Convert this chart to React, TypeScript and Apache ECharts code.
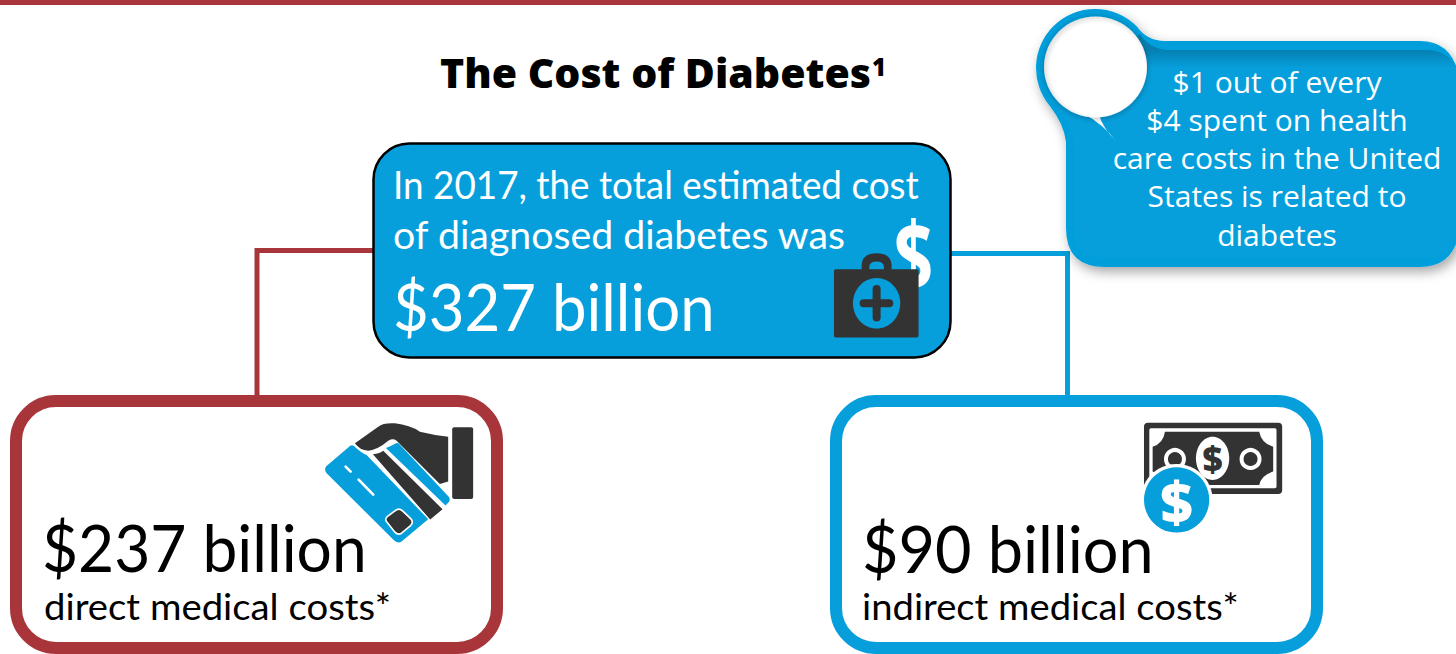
import React, { useEffect, useRef } from "react";
import * as echarts from "echarts";

// Cost figures, in billions of dollars
const totalCost = [327];
const directCost = [237];
const indirectCost = [90];
const calloutLines = ["$1 out of every", "$4 spent on health", "care costs in the United", "States is related to", "diabetes"];
const introLines = ["In 2017, the total estimated cost", "of diagnosed diabetes was"];

const RED = "#A8353A";
const BLUE = "#069FDC";
const DARK = "#333333";
const BODY_FONT = "Lato";

const shapes: Record<string, string> = {
  calloutOuter:
    "M1136.72 26.28 Q1147 41 1165 41 H1420 Q1450 41 1458 72 V238 Q1450 267 1420 267 H1105 Q1066 267 1066 228 V142 Q1064 124 1049.8 105.92 A59 59 0 0 1 1053.28 26.28 A59 59 0 0 1 1136.72 26.28 Z",
  calloutInner:
    "M1140 34 Q1150 50 1170 50 H1425 Q1452 50 1458 74 V236 Q1452 258 1425 258 H1108 Q1074 258 1074 228 V142 Q1070 120 1050 100 Z",
  bubbleTail: "M1083 113 Q1104 125 1115 140 Q1103 128 1099 115 Z",
  hand: "M165 100 L235 50 Q250 38 285 40 Q330 45 360 65 Q400 75 445 80 V215 L420 222 L290 92 Q280 84 265 92 Q235 118 205 122 Q180 122 165 100 Z",
  cardBody:
    "M78 170 L150 108 Q155 103 162 108 Q185 130 200 135 L385 328 L305 395 Q295 402 283 392 L80 190 Q72 180 78 170 Z",
  cardStripe: "M219 133 Q240 130 250 122 L428 298 L391 329 Z",
  cardBand: "M258 114 Q275 108 288 100 Q293 97 298 102 L448 262 Q452 270 447 276 L437 287 Z",
  cardChip:
    "M285 303 Q297 292 308 303 L333 327 Q342 337 332 347 L305 370 Q295 377 285 367 L262 338 Q253 328 262 320 Z",
  billInner:
    "M105 65 H388 Q395 100 430 110 V185 Q395 195 388 225 H105 Q100 195 68 185 V110 Q100 100 105 65 Z",
  caseHandle: "M125 180 V165 Q127 130 170 130 Q213 130 215 165 V180 H192 V170 Q190 155 170 155 Q150 155 148 170 V180 Z",
};
Object.entries(shapes).forEach(([name, d]) => {
  echarts.graphic.registerShape(name, echarts.graphic.extendPath(d, {}));
});

// Text anchored at its left edge; widthScale condenses or stretches the run horizontally.
const label = (text: string, x: number, y: number, fontSize: number, fill: string, widthScale = 1, extra: any = {}) => ({
  type: "text",
  x,
  y,
  scaleX: widthScale,
  silent: true,
  style: { text, fill, fontSize, fontFamily: BODY_FONT, verticalAlign: "middle", align: "left", ...extra },
});

const line = (points: number[][], stroke: string) => ({
  type: "polyline",
  shape: { points },
  style: { stroke, lineWidth: 5, fill: "none" },
});

const costBox = (x: number, stroke: string) => ({
  type: "rect",
  shape: { x, y: 401, width: 481, height: 247, r: 40 },
  style: { fill: "#ffffff", stroke, lineWidth: 12 },
});

const zoomedIcon = (x: number, y: number, children: any[]) => ({
  type: "group",
  x,
  y,
  scaleX: 1 / 3,
  scaleY: 1 / 3,
  children,
});

function buildGraphics() {
  const callout = [
    {
      type: "calloutOuter",
      style: { fill: BLUE, shadowBlur: 12, shadowColor: "rgba(0,0,0,0.35)", shadowOffsetX: 3, shadowOffsetY: 5 },
    },
    {
      type: "calloutInner",
      style: {
        fill: {
          type: "linear",
          x: 0,
          y: 0,
          x2: 0,
          y2: 1,
          colorStops: [
            { offset: 0, color: "#057FB0" },
            { offset: 0.07, color: "#057FB0" },
            { offset: 0.15, color: BLUE },
            { offset: 1, color: BLUE },
          ],
        },
      },
    },
    { type: "bubbleTail", style: { fill: "#ffffff" } },
    {
      type: "ellipse",
      shape: { cx: 1095.5, cy: 67, rx: 51.5, ry: 50.5 },
      style: {
        fill: {
          type: "radial",
          x: 0.52,
          y: 0.52,
          r: 0.52,
          colorStops: [
            { offset: 0, color: "#ffffff" },
            { offset: 0.88, color: "#ffffff" },
            { offset: 1, color: "#e2e2e2" },
          ],
        },
        shadowBlur: 6,
        shadowColor: "rgba(0,0,0,0.3)",
        shadowOffsetY: 1,
      },
    },
    ...calloutLines.map((text, i) =>
      label(text, 1277, 81 + i * 38.3, 30, "#ffffff", 1, { align: "center", fontFamily: "Open Sans", fontWeight: 400 })
    ),
  ];

  const caseIcon = zoomedIcon(820, 210, [
    {
      type: "text",
      x: 280,
      y: 132,
      scaleX: 0.82,
      scaleY: 1.15,
      style: { text: "$", fill: "#ffffff", fontSize: 255, fontFamily: "Open Sans", fontWeight: 700, align: "center", verticalAlign: "middle" },
    },
    { type: "caseHandle", style: { fill: DARK } },
    { type: "rect", shape: { x: 42, y: 178, width: 254, height: 205, r: 5 }, style: { fill: DARK } },
    { type: "ellipse", shape: { cx: 170, cy: 280, rx: 71, ry: 76 }, style: { fill: BLUE } },
    { type: "rect", shape: { x: 119, y: 268, width: 101, height: 24, r: 12 }, style: { fill: DARK } },
    { type: "rect", shape: { x: 158, y: 225, width: 24, height: 110, r: 12 }, style: { fill: DARK } },
  ]);

  const cardIcon = zoomedIcon(300, 410, [
    { type: "hand", style: { fill: DARK } },
    { type: "rect", shape: { x: 457, y: 52, width: 63, height: 215, r: 6 }, style: { fill: DARK } },
    { type: "cardBody", style: { fill: BLUE } },
    { type: "cardStripe", style: { fill: DARK } },
    { type: "cardBand", style: { fill: BLUE } },
    { type: "cardChip", style: { fill: DARK, stroke: "#ffffff", lineWidth: 5 } },
    { type: "line", shape: { x1: 137, y1: 170, x2: 152, y2: 185 }, style: { stroke: "#ffffff", lineWidth: 8, lineCap: "round" } },
    { type: "line", shape: { x1: 176, y1: 209, x2: 220, y2: 254 }, style: { stroke: "#ffffff", lineWidth: 8, lineCap: "round" } },
  ]);

  const moneyIcon = zoomedIcon(1130, 410, [
    { type: "rect", shape: { x: 42, y: 38, width: 415, height: 214, r: 12 }, style: { fill: DARK } },
    { type: "rect", shape: { x: 58, y: 55, width: 382, height: 180, r: 5 }, style: { fill: "#ffffff" } },
    { type: "billInner", style: { fill: DARK } },
    { type: "ellipse", shape: { cx: 248, cy: 145, rx: 50, ry: 65 }, style: { fill: "#ffffff" } },
    {
      type: "text",
      x: 248,
      y: 145,
      style: { text: "$", fill: DARK, fontSize: 105, fontFamily: "Open Sans", fontWeight: 800, align: "center", verticalAlign: "middle" },
    },
    { type: "circle", shape: { cx: 135, cy: 147, r: 27 }, style: { fill: DARK, stroke: "#ffffff", lineWidth: 12 } },
    { type: "circle", shape: { cx: 362, cy: 147, r: 27 }, style: { fill: DARK, stroke: "#ffffff", lineWidth: 12 } },
    { type: "circle", shape: { cx: 140, cy: 270, r: 108 }, style: { fill: "#ffffff" } },
    { type: "circle", shape: { cx: 140, cy: 270, r: 98 }, style: { fill: BLUE } },
    {
      type: "text",
      x: 140,
      y: 272,
      style: { text: "$", fill: "#ffffff", fontSize: 170, fontFamily: "Open Sans", fontWeight: 800, align: "center", verticalAlign: "middle" },
    },
  ]);

  return [
    { type: "rect", shape: { x: 0, y: 0, width: 1456, height: 5 }, style: { fill: RED } },
    label("The Cost of Diabetes", 440, 72, 41, "#000000", 1, { fontFamily: "Open Sans", fontWeight: 800 }),
    label("1", 872, 66, 24, "#000000", 1, { fontFamily: "Open Sans", fontWeight: 800 }),
    line([[373, 250.5], [257, 250.5], [257, 396]], RED),
    line([[951, 253.5], [1067.5, 253.5], [1067.5, 396]], BLUE),
    ...callout,
    {
      type: "rect",
      shape: { x: 373.5, y: 143.5, width: 577, height: 214, r: 36 },
      style: { fill: BLUE, stroke: "#000000", lineWidth: 2.5 },
    },
    label(introLines[0], 393, 184, 38, "#ffffff", 0.97),
    label(introLines[1], 393, 234, 38, "#ffffff", 1.034),
    label(`$${totalCost[0]} billion`, 393, 306, 66, "#ffffff", 0.935),
    caseIcon,
    costBox(16, RED),
    costBox(836, BLUE),
    cardIcon,
    moneyIcon,
    label(`$${directCost[0]} billion`, 42, 547, 66, "#000000", 0.944),
    label("direct medical costs*", 44, 606, 37, "#000000", 1.036),
    label(`$${indirectCost[0]} billion`, 862, 547, 66, "#000000", 0.954),
    label("indirect medical costs*", 862, 606, 37, "#000000", 1.033),
  ];
}

export default function App() {
  const ref = useRef<HTMLDivElement>(null);
  useEffect(() => {
    document.body.style.margin = "0";
    const chart = echarts.init(ref.current!, undefined, { renderer: "svg" });
    chart.setOption({ animation: false, backgroundColor: "#ffffff", graphic: { elements: buildGraphics() } });
    return () => chart.dispose();
  }, []);
  return <div ref={ref} style={{ width: 1456, height: 654, overflow: "hidden" }} />;
}
